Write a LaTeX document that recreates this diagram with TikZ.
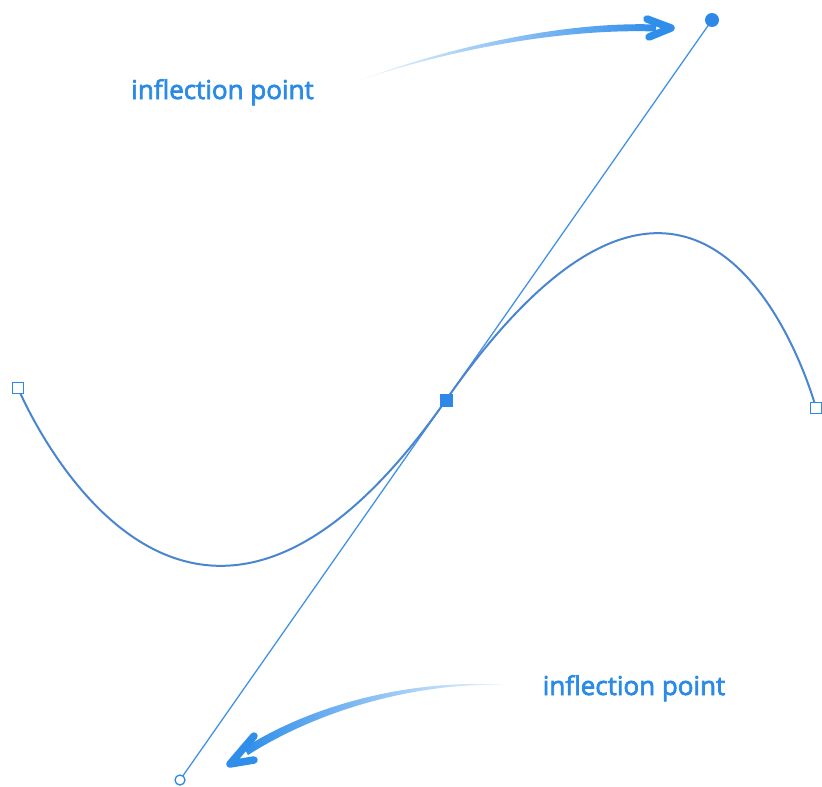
\documentclass[tikz,border=0pt]{standalone}
\usepackage{fontspec}
\setmainfont{Open Sans}
\newfontfamily\lblfont{Open Sans}[FakeBold=2.6]
\begin{document}
\begin{tikzpicture}[x=1pt,y=-1pt,
  curvecol/.style={draw=curveblue},
  hsq/.style={draw=markblue, fill=white, line width=1.4pt, minimum size=11pt, inner sep=0pt, outer sep=0pt, rectangle},
  fsq/.style={fill=markblue, minimum size=13pt, inner sep=0pt, outer sep=0pt, rectangle},
  fdot/.style={fill=markblue, circle, minimum size=14pt, inner sep=0pt, outer sep=0pt},
  hdot/.style={draw=markblue, fill=white, circle, line width=1.3pt, minimum size=10pt, inner sep=0pt, outer sep=0pt},
  lbl/.style={text=textblue, font=\lblfont\fontsize{26}{30}\selectfont, anchor=base, inner sep=0pt},
  ahead/.style={draw=arrowblue, line width=7.5pt, line cap=round, line join=round},
]
\definecolor{curveblue}{HTML}{4A86D0}
\definecolor{lineblue}{HTML}{4592E6}
\definecolor{markblue}{HTML}{2F88E8}
\definecolor{arrowblue}{HTML}{2E8EEA}
\definecolor{textblue}{HTML}{2A8AE6}
\useasboundingbox (0,0) rectangle (822,787);
\fill[white] (0,0) rectangle (822,787);

% anchors and handles
\coordinate (A) at (18,388);
\coordinate (M) at (446,400);
\coordinate (B) at (816,408);
\coordinate (H1) at (180,780);
\coordinate (H2) at (712,20);

% tangent line (handles)
\draw[lineblue, line width=1.3pt] (H1) -- (H2);
% curve
\draw[curvecol, line width=2pt] (A) .. controls (A) and (H1) .. (M)
   .. controls (H2) and (B) .. (B);

% markers
\node[hsq] (a) at (A) {};
\node[hsq] (b) at (B) {};
\node[fsq] (m) at (M) {};
\node[fdot] (h2) at (H2) {};
\node[hdot] (h1) at (H1) {};

% labels
\node[lbl] (t1) at (222.5,99) {inflection point};
\node[lbl] (t2) at (634,695) {inflection point};

% arrow 1 (top)
\coordinate (a1t) at (360,80);
\coordinate (a1h) at (671,28);
\shade[left color=arrowblue!8!white, right color=arrowblue, shading angle=90]
  (a1t) .. controls (460,43.5) and (570,21.5) .. (656,24.5)
  -- (656,31.5) .. controls (570,28.5) and (460,46.5) .. (a1t) -- cycle;
\draw[ahead] (647,19) -- (a1h) -- (649,37);

% arrow 2 (bottom)
\coordinate (a2t) at (507,685);
\coordinate (a2h) at (230,764);
\shade[right color=arrowblue!8!white, left color=arrowblue]
  (a2t) .. controls (420,678.5) and (318,701) .. (244,748)
  -- (248,755) .. controls (322,708) and (420,682) .. (a2t) -- cycle;
\draw[ahead] (254,736) -- (a2h) -- (254,760);
\end{tikzpicture}
\end{document}
